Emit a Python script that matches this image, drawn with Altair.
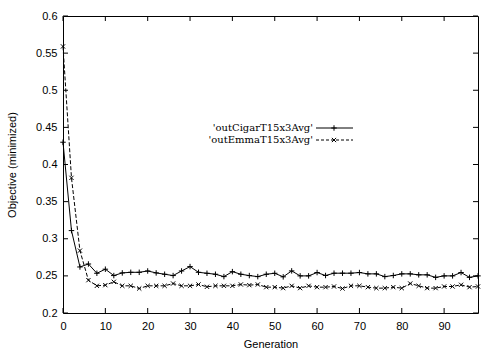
import altair as alt
import pandas as pd

generations = list(range(0, 100, 2))

cigar = [0.430, 0.311, 0.262, 0.266, 0.2535, 0.259, 0.2504, 0.254, 0.2548, 0.2548,
         0.2566, 0.254, 0.2522, 0.2504, 0.2566, 0.2625, 0.2548, 0.2535, 0.2522, 0.249,
         0.2557, 0.2522, 0.2504, 0.249, 0.2522, 0.2535, 0.2487, 0.2567, 0.250, 0.250,
         0.2545, 0.2505, 0.2536, 0.2536, 0.2536, 0.2545, 0.2527, 0.2527, 0.249, 0.2505,
         0.2527, 0.2527, 0.2514, 0.2514, 0.248, 0.250, 0.250, 0.2545, 0.248, 0.250]

emma = [0.559, 0.382, 0.284, 0.2442, 0.2366, 0.2375, 0.242, 0.2366, 0.2366, 0.233,
        0.2366, 0.2366, 0.2366, 0.2397, 0.2366, 0.2366, 0.2384, 0.2353, 0.2366, 0.2366,
        0.2366, 0.2384, 0.2375, 0.2384, 0.2348, 0.2348, 0.2335, 0.2366, 0.2335, 0.2366,
        0.2348, 0.2348, 0.2357, 0.233, 0.2366, 0.2366, 0.2348, 0.2335, 0.2335, 0.2348,
        0.2335, 0.2397, 0.2366, 0.2335, 0.2335, 0.2357, 0.2357, 0.238, 0.2348, 0.2357]

series_names = ["'outCigarT15x3Avg'", "'outEmmaT15x3Avg'"]

x_ticks = list(range(0, 100, 10))
y_ticks = [0.2, 0.25, 0.3, 0.35, 0.4, 0.45, 0.5, 0.55, 0.6]

W, H = 415, 297

df_c = pd.DataFrame({"gen": generations, "val": cigar})
df_e = pd.DataFrame({"gen": generations, "val": emma})

xs = alt.Scale(domain=[0, 98], nice=False, zero=False)
ys = alt.Scale(domain=[0.2, 0.6], nice=False, zero=False)

lab_font = "Liberation Sans"

x_axis = alt.Axis(values=x_ticks, title="Generation", grid=False, tickSize=0,
                  domain=False, labelPadding=7, labelFontSize=11,
                  labelOverlap=False, labelFlush=False,
                  labelFont=lab_font, labelColor="black", titleFont=lab_font,
                  titleFontSize=11, titleFontWeight="normal", titleColor="black",
                  titlePadding=7)
y_axis = alt.Axis(values=y_ticks, format=".2~f", title="Objective (minimized)",
                  grid=False, tickSize=0, domain=False, labelPadding=6,
                  labelOverlap=False, labelFlush=False,
                  labelFontSize=11, labelFont=lab_font, labelColor="black",
                  titleFont=lab_font, titleFontSize=11, titleFontWeight="normal",
                  titleColor="black", titlePadding=18)


def X(f):
    return alt.X(f, scale=xs, axis=x_axis)


def Y(f):
    return alt.Y(f, scale=ys, axis=y_axis)


plus_path = "M-1,0L1,0M0,-1L0,1"
cross_path = "M-1,-1L1,1M-1,1L1,-1"

line_c = alt.Chart(df_c).mark_line(color="black", strokeWidth=1).encode(
    x=X("gen:Q"), y=Y("val:Q"))
pts_c = alt.Chart(df_c).mark_point(shape=plus_path, size=30, color="black", filled=False,
                                   strokeWidth=1, opacity=1).encode(
    x=X("gen:Q"), y=Y("val:Q"))
line_e = alt.Chart(df_e).mark_line(color="black", strokeWidth=1, strokeDash=[4, 2]).encode(
    x=X("gen:Q"), y=Y("val:Q"))
pts_e = alt.Chart(df_e).mark_point(shape=cross_path, size=18, color="black", filled=False,
                                   strokeWidth=1, opacity=1).encode(
    x=X("gen:Q"), y=Y("val:Q"))

# inward tick marks on all four sides
dx = pd.DataFrame({"t": x_ticks})
dy = pd.DataFrame({"t": y_ticks})
tk = 5
xt_bot = alt.Chart(dx).mark_rule(color="black", strokeWidth=1).encode(
    x=X("t:Q"), y=alt.value(H), y2=alt.value(H - tk))
xt_top = alt.Chart(dx).mark_rule(color="black", strokeWidth=1).encode(
    x=X("t:Q"), y=alt.value(0), y2=alt.value(tk))
yt_left = alt.Chart(dy).mark_rule(color="black", strokeWidth=1).encode(
    y=Y("t:Q"), x=alt.value(0), x2=alt.value(tk))
yt_right = alt.Chart(dy).mark_rule(color="black", strokeWidth=1).encode(
    y=Y("t:Q"), x=alt.value(W), x2=alt.value(W - tk))

# key (legend) drawn gnuplot-style: label right-aligned, sample line on the right
text_right = 313 - 63
line_x1, line_x2 = 316 - 63, 353 - 63
row_y = [128 - 16, 140 - 16]
mark_x = 334 - 63

leg_text = []
leg_lines = []
for i, nm in enumerate(series_names):
    d = pd.DataFrame({"name": [nm]})
    leg_text.append(alt.Chart(d).mark_text(align="right", baseline="middle",
                                           font="DejaVu Serif", fontSize=10,
                                           color="black").encode(
        text="name:N", x=alt.value(text_right), y=alt.value(row_y[i])))
    rl = alt.Chart(d).mark_rule(color="black", strokeWidth=1,
                                strokeDash=[1, 0] if i == 0 else [3, 2]).encode(
        x=alt.value(line_x1), x2=alt.value(line_x2), y=alt.value(row_y[i]))
    pm = alt.Chart(d).mark_point(shape=plus_path if i == 0 else cross_path,
                                 size=30 if i == 0 else 18, color="black", filled=False,
                                 strokeWidth=1, opacity=1).encode(
        x=alt.value(mark_x), y=alt.value(row_y[i]))
    leg_lines += [rl, pm]

chart = alt.layer(line_c, line_e, pts_c, pts_e, xt_bot, xt_top, yt_left, yt_right,
                  *leg_text, *leg_lines).properties(
    width=W, height=H,
    autosize=alt.AutoSizeParams(type="none"),
    padding={"left": 63, "top": 16, "right": 501 - 63 - W, "bottom": 351 - 16 - H},
    background="white",
).configure_view(stroke="black", strokeWidth=1)

chart.save("out.html", embed_options={"renderer": "svg", "actions": False})
